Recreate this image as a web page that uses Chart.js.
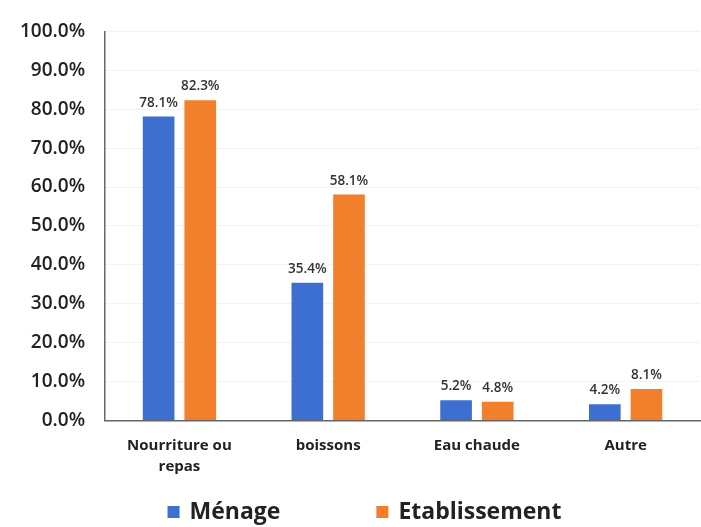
<!DOCTYPE html>
<html>
<head>
<meta charset="utf-8">
<script src="https://cdn.jsdelivr.net/npm/chart.js@4"></script>
<style>
  html, body { margin: 0; padding: 0; background: #fff; }
  #wrap { width: 701px; height: 527px; }
</style>
</head>
<body>
<div id="wrap"><canvas id="chart"></canvas></div>
<script>
const categories = [["Nourriture ou", "repas"], "boissons", "Eau chaude", "Autre"];
const menage = [78.1, 35.4, 5.2, 4.2];
const etablissement = [82.3, 58.1, 4.8, 8.1];

const FONT = "'Open Sans', 'Noto Sans', sans-serif";

// value labels above the bars
const valueLabels = {
    id: 'valueLabels',
    afterDatasetsDraw(chart) {
        const ctx = chart.ctx;
        ctx.save();
        ctx.font = "600 13.5px " + FONT;
        ctx.fillStyle = '#333';
        ctx.textAlign = 'center';
        ctx.textBaseline = 'bottom';
        chart.data.datasets.forEach((ds, i) => {
            chart.getDatasetMeta(i).data.forEach((bar, j) => {
                ctx.fillText(ds.data[j].toFixed(1) + '%', bar.x, bar.y - 7);
            });
        });
        ctx.restore();
    }
};

// legend drawn by hand so the gap between the two items can be wide
const bottomLegend = {
    id: 'bottomLegend',
    afterDraw(chart) {
        const ctx = chart.ctx;
        ctx.save();
        ctx.font = "bold 23px " + FONT;
        ctx.textBaseline = 'middle';
        const gap = 96, box = 12, boxGap = 10;
        const items = chart.data.datasets.map(ds => ({
            text: ds.label, color: ds.backgroundColor,
            w: box + boxGap + ctx.measureText(ds.label).width
        }));
        const total = items.reduce((s, it) => s + it.w, 0) + gap * (items.length - 1);
        let x = (chart.width - total) / 2 + 14;
        const y = 512;
        items.forEach(it => {
            ctx.fillStyle = it.color;
            ctx.fillRect(x, y - box / 2, box, box);
            ctx.fillStyle = '#222';
            ctx.fillText(it.text, x + box + boxGap, y);
            x += it.w + gap;
        });
        ctx.restore();
    }
};

const ctx = document.getElementById('chart').getContext('2d');
new Chart(ctx, {
    type: 'bar',
    data: {
        labels: categories,
        datasets: [
            {
                label: 'Ménage',
                data: menage,
                backgroundColor: '#3d6fd0',
                categoryPercentage: 0.56,
                barPercentage: 0.76
            },
            {
                label: 'Etablissement',
                data: etablissement,
                backgroundColor: '#f27f2c',
                categoryPercentage: 0.56,
                barPercentage: 0.76
            }
        ]
    },
    options: {
        responsive: true,
        maintainAspectRatio: false,
        animation: false,
        layout: {
            autoPadding: false,
            padding: { top: 0, left: 0, right: 1, bottom: 35 }
        },
        scales: {
            x: {
                grid: { display: false, drawTicks: false },
                border: { display: true, color: '#666', width: 1.5 },
                ticks: {
                    color: '#222',
                    font: { family: FONT, size: 15, weight: 'bold', lineHeight: 1.45 },
                    padding: 14
                }
            },
            y: {
                min: 0,
                max: 100,
                grid: { color: '#f2f2f2', drawTicks: false },
                border: { display: true, color: '#666', width: 1.5 },
                ticks: {
                    stepSize: 10,
                    color: '#222',
                    padding: 20,
                    font: { family: FONT, size: 19, weight: '600' },
                    callback: v => v.toFixed(1) + '%'
                }
            }
        },
        plugins: {
            legend: { display: false },
            tooltip: { enabled: false }
        }
    },
    plugins: [valueLabels, bottomLegend]
});
</script>
</body>
</html>
